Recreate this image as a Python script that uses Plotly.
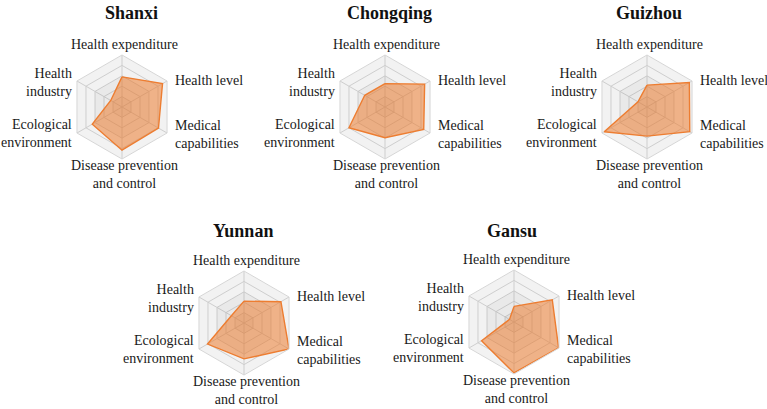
import plotly.graph_objects as go

W, H = 767, 409

categories = ["Health expenditure", "Health level", "Medical capabilities",
              "Disease prevention and control", "Ecological environment", "Health industry"]
tick_labels = ["Health expenditure", "Health level", "Medical<br>capabilities",
               "Disease prevention<br>and control", "Ecological<br>environment", "Health<br>industry"]

regions = ["Shanxi", "Chongqing", "Guizhou", "Yunnan", "Gansu"]
shanxi = [0.58, 0.90, 0.81, 0.83, 0.66, 0.25]
chongqing = [0.45, 0.88, 0.86, 0.59, 0.80, 0.45]
guizhou = [0.42, 0.94, 0.95, 0.56, 0.95, 0.20]
yunnan = [0.42, 0.82, 1.00, 0.69, 0.81, 0.28]
gansu = [0.30, 0.85, 0.99, 0.98, 0.72, 0.10]
values = [shanxi, chongqing, guizhou, yunnan, gansu]

# layout (pixel centres of each radar, radius, title centre)
centers = [(122, 107), (385, 107), (647, 107), (244, 323), (514, 322)]
title_pos = [(131, 13), (389, 13), (649, 13), (243, 231), (512, 231)]
R = 52
# label offsets from radar centre (dx, dy, anchor)
label_off = [(2, -63, "center"), (51, -27, "left"), (51, 27, "left"),
             (2, 67, "center"), (-48, 26, "right"), (-48, -25, "right")]

band_levels = [1.0, 0.8, 0.6, 0.4, 0.2]
band_colors = ["rgba(0,0,0,0.05)", "rgba(0,0,0,0.0)", "rgba(0,0,0,0.035)",
               "rgba(0,0,0,0.0)", "rgba(0,0,0,0.035)"]

FONT = "Liberation Serif"

fig = go.Figure()
annotations = []
for i, (name, vals) in enumerate(zip(regions, values)):
    pid = "polar" if i == 0 else f"polar{i+1}"
    sub = pid
    cx, cy = centers[i]
    for lvl, col in zip(band_levels, band_colors):
        fig.add_trace(go.Scatterpolar(
            r=[lvl] * (len(categories) + 1), theta=categories + categories[:1],
            mode="lines", line=dict(width=0), fill="toself", fillcolor=col,
            hoverinfo="skip", showlegend=False, subplot=sub))
    fig.add_trace(go.Scatterpolar(
        r=vals + vals[:1], theta=categories + categories[:1],
        mode="lines", fill="toself",
        fillcolor="rgba(237,125,49,0.55)",
        line=dict(color="#ED7D31", width=1.4),
        name=name, showlegend=False, subplot=sub))
    fig.update_layout(**{pid: dict(
        domain=dict(x=[(cx - R) / W, (cx + R) / W],
                    y=[1 - (cy + R) / H, 1 - (cy - R) / H]),
        gridshape="linear",
        bgcolor="white",
        radialaxis=dict(range=[0, 1], tickvals=[0.2, 0.4, 0.6, 0.8, 1.0],
                        showticklabels=False, ticks="", showline=False,
                        gridcolor="#dadada", gridwidth=0.8),
        angularaxis=dict(rotation=90, direction="clockwise",
                         tickvals=categories, showticklabels=False,
                         ticks="", showline=True, linecolor="#d6d6d6",
                         gridcolor="#dadada", gridwidth=0.8),
    )})
    tx, ty = title_pos[i]
    annotations.append(dict(text=f"<b>{name}</b>", x=tx / W, y=1 - ty / H,
                            xref="paper", yref="paper", showarrow=False,
                            xanchor="center", yanchor="middle",
                            font=dict(family=FONT, size=18, color="#111111")))
    for lab, (dx, dy, anc) in zip(tick_labels, label_off):
        annotations.append(dict(text=lab, x=(cx + dx) / W, y=1 - (cy + dy) / H,
                                xref="paper", yref="paper", showarrow=False,
                                xanchor=anc, yanchor="middle", align=anc,
                                font=dict(family=FONT, size=14, color="#1a1a1a")))

fig.update_layout(width=W, height=H, margin=dict(l=0, r=0, t=0, b=0),
                  paper_bgcolor="white", annotations=annotations,
                  font=dict(family=FONT))
fig.write_html("out.html")
